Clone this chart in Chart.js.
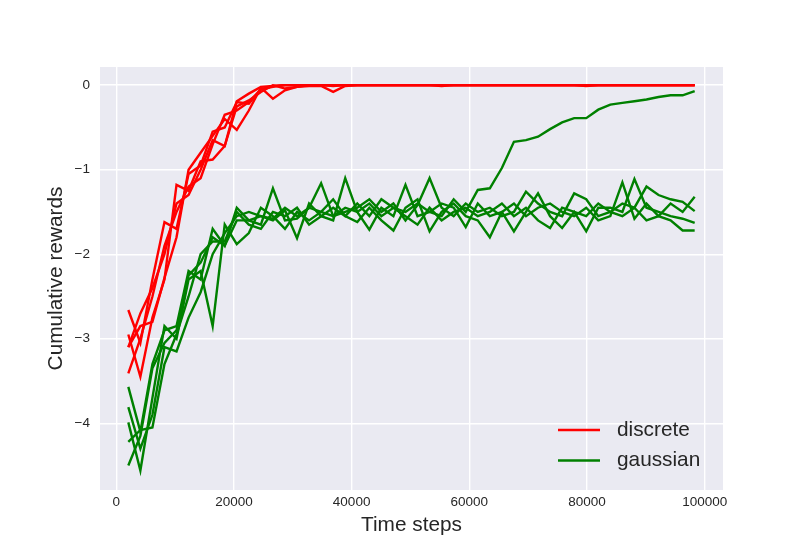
<!DOCTYPE html>
<html><head><meta charset="utf-8">
<script src="https://cdn.jsdelivr.net/npm/chart.js@4.4.1/dist/chart.umd.min.js"></script>
<style>html,body{margin:0;padding:0;background:#fff}</style>
</head><body>
<canvas id="c" width="800" height="550"></canvas>
<script>
const steps = [2048,4096,6144,8192,10240,12288,14336,16384,18432,20480,
  22528,24576,26624,28672,30720,32768,34816,36864,38912,40960,
  43008,45056,47104,49152,51200,53248,55296,57344,59392,61440,
  63488,65536,67584,69632,71680,73728,75776,77824,79872,81920,
  83968,86016,88064,90112,92160,94208,96256,98304];
const xTicks = [0,20000,40000,60000,80000,100000];
const yTicks = [-4,-3,-2,-1,0];
const seriesNames = ['discrete','gaussian'];

const discrete1 = [-2.66,-3.05,-2.30,-1.62,-1.70,-1.05,-0.95,-0.55,-0.50,-0.20,
  -0.22,-0.05,-0.02,0,0,0,0,0,0,0,
  0,0,0,0,0,0,0,0,0,0,
  0,0,0,0,0,0,0,0,0,0,
  0,0,0,0,0,0,0,0];
const discrete2 = [-2.95,-3.45,-2.75,-2.30,-1.18,-1.25,-0.90,-0.88,-0.72,-0.25,
  -0.18,-0.08,0,-0.04,-0.02,0,0,-0.01,0,0,
  0,0,0,0,0,0,-0.01,0,0,0,
  0,0,0,0,0,0,0,0,0,0,
  0,0,0,0,0,0,0,0];
const discrete3 = [-3.10,-2.85,-2.80,-2.28,-1.80,-1.00,-0.80,-0.60,-0.40,-0.53,
  -0.30,-0.03,-0.16,-0.06,-0.02,-0.01,-0.01,-0.08,-0.01,0,
  0,0,0,0,0,0,0,0,0,0,
  0,0,0,0,0,0,0,0,0,0,
  0,0,0,0,0,0,0,0];
const discrete4 = [-3.41,-3.00,-2.50,-1.90,-1.50,-1.20,-1.10,-0.70,-0.35,-0.30,
  -0.20,-0.05,-0.01,0,0,0,0,0,0,0,
  0,0,0,0,0,0,0,0,0,0,
  0,0,0,0,0,0,0,0,-0.01,0,
  0,0,0,0,0,0,0,0];
const discrete5 = [-3.10,-2.70,-2.40,-2.00,-1.40,-1.30,-1.00,-0.65,-0.72,-0.19,
  -0.10,-0.02,-0.01,0,0,0,0,0,0,0,
  0,0,0,0,0,0,0,0,0,0,
  0,0,0,0,0,0,0,0,0,0,
  0,0,0,0,0,0,0,0];

const gaussian1 = [-3.57,-4.10,-3.30,-2.90,-2.85,-2.20,-2.30,-1.70,-1.90,-1.45,
  -1.60,-1.65,-1.22,-1.60,-1.58,-1.45,-1.16,-1.55,-1.50,-1.45,
  -1.35,-1.50,-1.40,-1.60,-1.42,-1.10,-1.45,-1.55,-1.40,-1.50,
  -1.45,-1.55,-1.50,-1.26,-1.40,-1.50,-1.55,-1.28,-1.35,-1.55,
  -1.50,-1.40,-1.45,-1.20,-1.30,-1.35,-1.38,-1.49];
const gaussian2 = [-3.81,-4.30,-3.90,-3.10,-3.15,-2.75,-2.45,-2.00,-1.75,-1.55,
  -1.50,-1.55,-1.60,-1.48,-1.81,-1.40,-1.55,-1.60,-1.10,-1.50,
  -1.71,-1.45,-1.55,-1.18,-1.55,-1.50,-1.40,-1.45,-1.68,-1.40,
  -1.55,-1.50,-1.73,-1.50,-1.28,-1.55,-1.69,-1.50,-1.73,-1.45,
  -1.45,-1.50,-1.11,-1.45,-1.50,-1.55,-1.58,-1.63];
const gaussian3 = [-3.99,-4.56,-3.70,-2.85,-3.00,-2.30,-2.20,-2.85,-1.65,-1.88,
  -1.75,-1.45,-1.55,-1.70,-1.50,-1.60,-1.50,-1.35,-1.55,-1.62,
  -1.45,-1.60,-1.72,-1.45,-1.35,-1.73,-1.50,-1.40,-1.55,-1.60,
  -1.80,-1.50,-1.40,-1.55,-1.45,-1.40,-1.50,-1.55,-1.45,-1.60,
  -1.55,-1.15,-1.58,-1.40,-1.55,-1.60,-1.72,-1.72];
const gaussian4 = [-4.22,-4.08,-4.05,-3.30,-2.95,-2.50,-2.00,-1.85,-1.85,-1.50,
  -1.65,-1.70,-1.50,-1.55,-1.45,-1.65,-1.55,-1.45,-1.55,-1.40,
  -1.55,-1.35,-1.45,-1.55,-1.65,-1.45,-1.60,-1.50,-1.45,-1.55,
  -1.50,-1.40,-1.55,-1.45,-1.60,-1.69,-1.45,-1.50,-1.55,-1.40,
  -1.50,-1.55,-1.45,-1.60,-1.55,-1.40,-1.50,-1.32];
const gaussian5 = [-4.50,-4.15,-3.35,-3.05,-2.90,-2.25,-2.10,-1.80,-1.90,-1.60,
  -1.60,-1.55,-1.58,-1.45,-1.55,-1.45,-1.50,-1.55,-1.45,-1.50,
  -1.40,-1.55,-1.45,-1.50,-1.40,-1.50,-1.55,-1.35,-1.50,-1.24,
  -1.22,-0.98,-0.67,-0.65,-0.61,-0.52,-0.44,-0.39,-0.39,-0.29,
  -0.23,-0.21,-0.19,-0.17,-0.14,-0.12,-0.12,-0.07];

const discreteRuns = [discrete1,discrete2,discrete3,discrete4,discrete5];
const gaussianRuns = [gaussian1,gaussian2,gaussian3,gaussian4,gaussian5];
const RED = '#ff0000', GREEN = '#008000';
const TEXT = '#262626';
const FONT = '"Liberation Sans", Arial, sans-serif';
const LW = 2.4;

function mk(arr, color, label) {
  return { label, data: steps.map((x,i)=>({x, y: arr[i]})), borderColor: color,
    backgroundColor: color, borderWidth: LW, pointRadius: 0, tension: 0, fill: false };
}
const datasets = [
  ...discreteRuns.map(a=>mk(a, RED, seriesNames[0])),
  ...gaussianRuns.map(a=>mk(a, GREEN, seriesNames[1]))
];

const bgPlugin = {
  id: 'bg',
  beforeDraw(chart) {
    const {ctx, chartArea: a} = chart;
    ctx.save(); ctx.fillStyle = '#EAEAF2';
    ctx.fillRect(a.left, a.top, a.right - a.left, a.bottom - a.top);
    ctx.restore();
  }
};
const legendPlugin = {
  id: 'lg',
  afterDraw(chart) {
    const {ctx} = chart;
    const entries = [[seriesNames[0], RED], [seriesNames[1], GREEN]];
    ctx.save();
    ctx.font = '20.8px ' + FONT;
    ctx.textBaseline = 'middle';
    entries.forEach((e, i) => {
      const y = 430 + i * 30.5;
      ctx.strokeStyle = e[1]; ctx.lineWidth = LW;
      ctx.beginPath(); ctx.moveTo(558, y); ctx.lineTo(600, y); ctx.stroke();
      ctx.fillStyle = TEXT; ctx.fillText(e[0], 617, y);
    });
    ctx.restore();
  }
};

new Chart(document.getElementById('c'), {
  type: 'line',
  data: { datasets },
  plugins: [bgPlugin, legendPlugin],
  options: {
    responsive: false, animation: false, devicePixelRatio: 1,
    layout: { padding: { top: 67, right: 77, left: 0, bottom: 0 } },
    plugins: { legend: { display: false }, tooltip: { enabled: false } },
    scales: {
      x: {
        type: 'linear', min: -2765, max: 103117,
        afterBuildTicks: s => { s.ticks = xTicks.map(v => ({value: v})); },
        afterFit: s => { s.height = 60; },
        grid: { color: '#ffffff', lineWidth: 1.4, drawTicks: false },
        border: { display: false },
        ticks: { color: TEXT, font: { family: FONT, size: 13.5 }, padding: 4, maxRotation: 0,
          callback: v => String(v) },
        title: { display: true, text: 'Time steps', color: TEXT,
          font: { family: FONT, size: 20.8 }, padding: { top: 0, bottom: 12 } }
      },
      y: {
        type: 'linear', min: -4.79, max: 0.215,
        afterBuildTicks: s => { s.ticks = yTicks.map(v => ({value: v})); },
        afterFit: s => { s.width = 100; },
        grid: { color: '#ffffff', lineWidth: 1.4, drawTicks: false },
        border: { display: false },
        ticks: { color: TEXT, font: { family: FONT, size: 13.5 }, padding: 10,
          callback: v => v < 0 ? '\u2212' + Math.abs(v) : String(v) },
        title: { display: true, text: 'Cumulative rewards', color: TEXT,
          font: { family: FONT, size: 20.8 }, padding: { top: 44, bottom: 0 } }
      }
    }
  }
});
</script>
</body></html>
